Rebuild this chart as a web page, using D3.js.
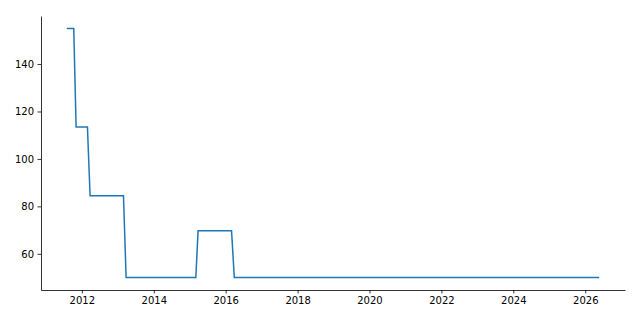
<!DOCTYPE html>
<html>
<head>
<meta charset="utf-8">
<script src="https://cdn.jsdelivr.net/npm/d3@7"></script>
<style>
  body { margin: 0; background: #fff; }
  .axis text { font-family: "DejaVu Sans", sans-serif; font-size: 10px; fill: #000; }
  .axis line, .axis path { stroke: #000; stroke-width: 0.8; }
</style>
</head>
<body>
<div id="chart"></div>
<script>
// corner points of the step line
var dates = ["2011-08-09", "2011-10-11", "2011-11-04", "2012-02-27", "2012-03-25",
             "2013-02-27", "2013-03-26", "2015-03-04", "2015-03-27", "2016-03-01",
             "2016-03-29", "2026-05-15"];
var values = [155, 155, 113.5, 113.5, 84.5, 84.5, 50, 50, 69.7, 69.7, 50, 50];
var yTicks = [60, 80, 100, 120, 140];

const width = 640, height = 320;
var margin = {top: 16, right: 15, bottom: 30, left: 41};

var parseDate = d3.timeParse("%Y-%m-%d");
var data = dates.map(function(d, i) {
  return {d: parseDate(d), v: values[i]};
});

// matplotlib style 5% padding around the data
var xExt = d3.extent(data, function(d) { return d.d; });
var xPad = (xExt[1] - xExt[0]) * 0.05;
var yExt = d3.extent(data, function(d) { return d.v; });
var yPad = (yExt[1] - yExt[0]) * 0.05;

var x = d3.scaleTime()
    .domain([new Date(+xExt[0] - xPad), new Date(+xExt[1] + xPad)])
    .range([margin.left, width - margin.right]);
var y = d3.scaleLinear()
    .domain([yExt[0] - yPad, yExt[1] + yPad])
    .range([height - margin.bottom, margin.top]);

var svg = d3.select("#chart").append("svg")
    .attr("width", width)
    .attr("height", height);

var xAxis = d3.axisBottom(x)
    .ticks(d3.timeYear.every(2))
    .tickFormat(d3.timeFormat("%Y"))
    .tickSize(3.5)
    .tickSizeOuter(0)
    .tickPadding(3.5);

var yAxis = d3.axisLeft(y)
    .tickValues(yTicks)
    .tickSize(3.5)
    .tickSizeOuter(0)
    .tickPadding(3.5);

svg.append("g")
    .attr("class", "axis")
    .attr("transform", "translate(0," + (height - margin.bottom) + ")")
    .call(xAxis);

svg.append("g")
    .attr("class", "axis")
    .attr("transform", "translate(" + margin.left + ",0)")
    .call(yAxis);

var line = d3.line()
    .x(function(d) { return x(d.d); })
    .y(function(d) { return y(d.v); });

svg.append("path")
    .attr("d", line(data))
    .attr("fill", "none")
    .attr("stroke", "#1f77b4")
    .attr("stroke-width", 1.5)
    .attr("stroke-linecap", "square");
</script>
</body>
</html>
